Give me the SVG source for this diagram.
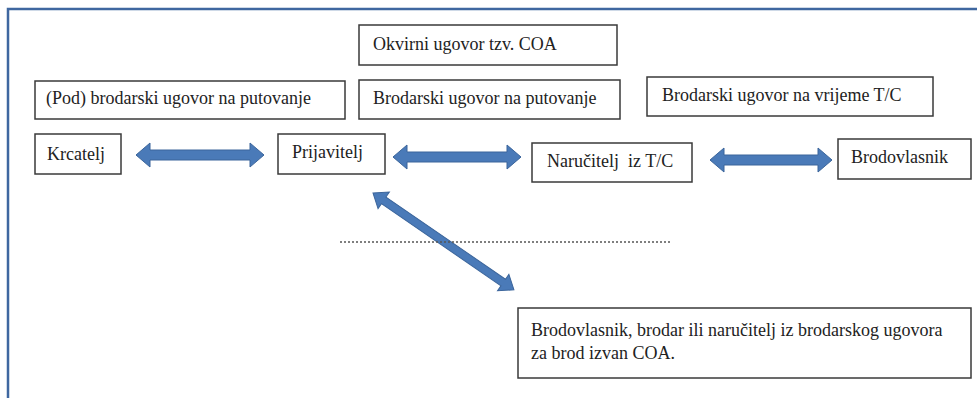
<svg xmlns="http://www.w3.org/2000/svg" width="977" height="398" viewBox="0 0 977 398">
<style>
.box{fill:#fff;stroke:#3a3a3a;stroke-width:1.5}
.t{font-family:'Liberation Serif','Times New Roman','DejaVu Serif',serif;font-size:18px;fill:#222}
.arr{fill:#4a7ab8;stroke:#3b659b;stroke-width:1}
.frame{fill:none;stroke:#3f67a0;stroke-width:2.5}
</style>
<rect width="977" height="398" fill="#fff"/>
<path class="frame" d="M8,398 V9 H977"/>
<g id="connectors">
<path class="arr" d="M136,155 L150,143 L150,150 L250,150 L250,143 L264,155 L250,167 L250,160 L150,160 L150,167 Z"/>
<path class="arr" d="M393,157 L407,145 L407,152 L507,152 L507,145 L521,157 L507,169 L507,162 L407,162 L407,169 Z"/>
<path class="arr" d="M710,160 L724,148 L724,155 L818,155 L818,148 L832,160 L818,172 L818,165 L724,165 L724,172 Z"/>
<path class="arr" transform="translate(373,193) rotate(34.5)" d="M0,0 L13,-10 L13,-4 L158,-4 L158,-10 L171,0 L158,10 L158,4 L13,4 L13,10 Z"/>
<line x1="340" y1="242" x2="672" y2="242" stroke="#555" stroke-width="1.3" stroke-dasharray="2,2"/>
</g>
<g id="okvirni"><rect class="box" x="359" y="25" width="258" height="40"/><text class="t" x="373" y="50">Okvirni ugovor tzv. COA</text></g>
<g id="pod"><rect class="box" x="35" y="81" width="310" height="38"/><text class="t" x="46" y="104">(Pod) brodarski ugovor na putovanje</text></g>
<g id="putovanje"><rect class="box" x="359" y="80" width="261" height="39"/><text class="t" x="373" y="104">Brodarski ugovor na putovanje</text></g>
<g id="vrijeme"><rect class="box" x="647" y="77" width="286" height="39"/><text class="t" x="662" y="101">Brodarski ugovor na vrijeme T/C</text></g>
<g id="krcatelj"><rect class="box" x="35" y="134" width="86" height="40"/><text class="t" x="47" y="160">Krcatelj</text></g>
<g id="prijavitelj"><rect class="box" x="278" y="134" width="107" height="40"/><text class="t" x="292" y="158">Prijavitelj</text></g>
<g id="narucitelj"><rect class="box" x="532" y="143" width="160" height="39"/><text class="t" x="547" y="167" xml:space="preserve">Naručitelj  iz T/C</text></g>
<g id="brodovlasnik"><rect class="box" x="838" y="139" width="133" height="40"/><text class="t" x="851" y="163">Brodovlasnik</text></g>
<g id="bottom"><rect class="box" x="518" y="308" width="453" height="70"/><text class="t" x="531" y="336">Brodovlasnik, brodar ili naručitelj iz brodarskog ugovora</text><text class="t" x="531" y="359">za brod izvan COA.</text></g>
</svg>
